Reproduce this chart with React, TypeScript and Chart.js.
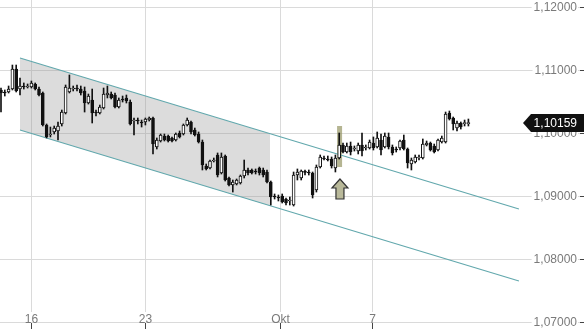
import { useEffect, useRef } from 'react';
import { Chart, registerables } from 'chart.js';

Chart.register(...registerables);

// 4-hour candles, one index per candle (trading time only)
const OPEN = [
  1.10683, 1.10651, 1.10651, 1.10698, 1.11016, 1.10698, 1.10746, 1.1073, 1.1073, 1.10778,
  1.10698, 1.10635, 1.10127, 1.09968, 1.10016, 1.10032, 1.10143, 1.10317, 1.10651, 1.10698,
  1.10714, 1.10698, 1.10667, 1.10476, 1.10524, 1.10333, 1.10317, 1.10397, 1.10603, 1.10619,
  1.10603, 1.10413, 1.1054, 1.10556, 1.10492, 1.1019, 1.10206, 1.10175, 1.10175, 1.10206,
  1.10238, 1.09778, 1.09873, 1.09952, 1.09952, 1.09921, 1.09889, 1.1, 1.09984, 1.10127,
  1.10175, 1.10048, 1.09984, 1.09857, 1.09476, 1.09444, 1.09556, 1.09651, 1.09365, 1.09635,
  1.09286, 1.09175, 1.0919, 1.09206, 1.09317, 1.09413, 1.09413, 1.09397, 1.09444, 1.09413,
  1.09381, 1.09222, 1.09, 1.08984, 1.09, 1.08952, 1.08921, 1.08857, 1.09333, 1.09286,
  1.09381, 1.09381, 1.09365, 1.09095, 1.0946, 1.09603, 1.09587, 1.09587, 1.09444, 1.09603,
  1.0981, 1.09698, 1.09794, 1.09746, 1.09714, 1.0981, 1.09762, 1.09762, 1.09841, 1.09778,
  1.09889, 1.09778, 1.09937, 1.09778, 1.09746, 1.09762, 1.09889, 1.09746, 1.09508, 1.0954,
  1.09603, 1.09603, 1.0981, 1.09841, 1.09794, 1.0973, 1.09857, 1.09857, 1.10317, 1.10238,
  1.10079, 1.10159, 1.1015, 1.1015,
];
const HIGH = [
  1.10714, 1.10683, 1.10746, 1.11079, 1.11079, 1.10873, 1.10794, 1.10778, 1.10825, 1.10794,
  1.1073, 1.10651, 1.10143, 1.10095, 1.10111, 1.10175, 1.10365, 1.10762, 1.10921, 1.10746,
  1.10762, 1.10746, 1.1073, 1.10619, 1.10698, 1.10365, 1.10444, 1.10714, 1.10746, 1.10651,
  1.10635, 1.10556, 1.10587, 1.10603, 1.10524, 1.10238, 1.10238, 1.10206, 1.10238, 1.10254,
  1.10254, 1.09921, 1.09984, 1.09984, 1.09968, 1.09937, 1.1, 1.10032, 1.10143, 1.10238,
  1.1019, 1.10079, 1.10016, 1.09889, 1.09508, 1.09571, 1.09603, 1.09683, 1.09683, 1.09651,
  1.09302, 1.09254, 1.0927, 1.09333, 1.09571, 1.09444, 1.09429, 1.09429, 1.0946, 1.09444,
  1.09413, 1.09238, 1.09032, 1.09016, 1.09032, 1.08968, 1.08984, 1.09381, 1.09429, 1.09413,
  1.09413, 1.09413, 1.09381, 1.09492, 1.09651, 1.09635, 1.09635, 1.09619, 1.09651, 1.1,
  1.09841, 1.09841, 1.09857, 1.09794, 1.09841, 1.1, 1.0981, 1.09889, 1.09937, 1.10016,
  1.09984, 1.1, 1.1, 1.0981, 1.09778, 1.09889, 1.09968, 1.09762, 1.09603, 1.09651,
  1.09651, 1.09905, 1.09873, 1.09857, 1.09825, 1.09905, 1.09952, 1.10333, 1.10349, 1.10254,
  1.1019, 1.10175, 1.10206, 1.10222,
];
const LOW = [
  1.10333, 1.10587, 1.10635, 1.10683, 1.10651, 1.10603, 1.10698, 1.10714, 1.10714, 1.10683,
  1.10587, 1.10111, 1.09921, 1.09937, 1.09984, 1.09889, 1.10111, 1.10302, 1.10635, 1.10667,
  1.10667, 1.10603, 1.10333, 1.1046, 1.10159, 1.1027, 1.10302, 1.10381, 1.10556, 1.1054,
  1.10397, 1.10397, 1.10492, 1.10476, 1.10127, 1.09968, 1.10143, 1.10095, 1.10127, 1.1019,
  1.09667, 1.09746, 1.09857, 1.09873, 1.09857, 1.09857, 1.09873, 1.09921, 1.09968, 1.10111,
  1.09984, 1.09952, 1.09841, 1.09413, 1.09413, 1.09429, 1.0954, 1.09302, 1.09349, 1.09238,
  1.09159, 1.09063, 1.09175, 1.0919, 1.09286, 1.09333, 1.09349, 1.09349, 1.09333, 1.09302,
  1.09206, 1.08857, 1.08952, 1.08921, 1.08889, 1.08857, 1.08857, 1.08841, 1.09254, 1.09254,
  1.09333, 1.09333, 1.08968, 1.09063, 1.09444, 1.09571, 1.09556, 1.09444, 1.09381, 1.09587,
  1.09683, 1.09683, 1.09651, 1.09714, 1.09667, 1.09635, 1.0973, 1.09746, 1.0973, 1.09762,
  1.09651, 1.09762, 1.09746, 1.09651, 1.09698, 1.0973, 1.0973, 1.09444, 1.09413, 1.09524,
  1.09571, 1.09587, 1.09794, 1.09714, 1.09683, 1.09714, 1.09841, 1.09841, 1.10206, 1.10048,
  1.10032, 1.10063, 1.10111, 1.10111,
];
const CLOSE = [
  1.10635, 1.10635, 1.10698, 1.11016, 1.10667, 1.10746, 1.1073, 1.10746, 1.10794, 1.10698,
  1.10603, 1.10127, 1.09937, 1.09984, 1.10079, 1.10111, 1.10333, 1.1073, 1.10714, 1.10714,
  1.10698, 1.10635, 1.10476, 1.10587, 1.10317, 1.10317, 1.10413, 1.10619, 1.10635, 1.10556,
  1.10413, 1.10524, 1.10524, 1.10508, 1.10143, 1.10206, 1.1019, 1.10159, 1.10222, 1.10238,
  1.09825, 1.09889, 1.09968, 1.09889, 1.09873, 1.09873, 1.09984, 1.09937, 1.10127, 1.10206,
  1.10016, 1.09968, 1.09857, 1.09492, 1.09429, 1.09556, 1.09571, 1.09333, 1.09619, 1.09254,
  1.09175, 1.09222, 1.09254, 1.09317, 1.09413, 1.09365, 1.09365, 1.09381, 1.09365, 1.09333,
  1.09222, 1.08984, 1.08984, 1.08968, 1.08905, 1.08889, 1.08937, 1.09333, 1.09381, 1.09397,
  1.09375, 1.09365, 1.09016, 1.0946, 1.09619, 1.09587, 1.09571, 1.09476, 1.09603, 1.0981,
  1.09698, 1.09794, 1.09698, 1.09762, 1.0981, 1.09714, 1.09778, 1.09857, 1.09762, 1.09921,
  1.0973, 1.09952, 1.09778, 1.09683, 1.0973, 1.09873, 1.09746, 1.09524, 1.09571, 1.09619,
  1.09619, 1.09825, 1.09841, 1.0973, 1.09698, 1.09889, 1.09921, 1.10302, 1.10222, 1.10143,
  1.10159, 1.10095, 1.10159, 1.10159,
];

const Y_TICKS = [1.07, 1.08, 1.09, 1.1, 1.11, 1.12];
const X_TICK_POS = [7.9, 37.9, 73.5, 97.6];
const X_TICK_LABELS = ['16', '23', 'Okt', '7'];

const CHANNEL_X = [5.0, 136.3];
const UPPER_CHANNEL = [1.1119, 1.08794];
const LOWER_CHANNEL = [1.10048, 1.07651];
const SHADE_X = [5.0, 70.8];
const SHADE_UPPER = [1.1119, 1.09989];
const SHADE_LOWER = [1.10048, 1.08847];

const LAST_PRICE = 1.10159;
const HIGHLIGHT_INDEX = 89.1;
const HIGHLIGHT_TOP = 1.10111;
const HIGHLIGHT_BOTTOM = 1.0946;
const ARROW_INDEX = 89.2;
const ARROW_TIP = 1.0927;
const ARROW_BASE = 1.08952;

const X_MIN = -0.263;
const X_MAX = 153.42;
const Y_MIN = 1.068889;
const Y_MAX = 1.121111;

const FONT = '12px "Liberation Sans", Arial, sans-serif';
const fmt = (v: number) => v.toFixed(5).replace('.', ',');

const overlay = {
  id: 'overlay',
  beforeDatasetsDraw(chart: any) {
    const { ctx } = chart;
    const xs = chart.scales.x;
    const ys = chart.scales.y;
    const axisY = Math.round(ys.getPixelForValue(Y_TICKS[0]));
    ctx.save();
    ctx.lineWidth = 1;
    ctx.strokeStyle = '#dadada';
    ctx.beginPath();
    for (const v of Y_TICKS) {
      const py = Math.round(ys.getPixelForValue(v)) + 0.5;
      ctx.moveTo(0, py);
      ctx.lineTo(580, py);
    }
    for (const v of X_TICK_POS) {
      const px = Math.round(xs.getPixelForValue(v)) + 0.5;
      ctx.moveTo(px, 0);
      ctx.lineTo(px, axisY + 0.5);
    }
    ctx.stroke();
    const hx = xs.getPixelForValue(HIGHLIGHT_INDEX);
    const ht = ys.getPixelForValue(HIGHLIGHT_TOP);
    const hb = ys.getPixelForValue(HIGHLIGHT_BOTTOM);
    ctx.fillStyle = 'rgba(150,150,100,0.7)';
    ctx.fillRect(hx - 2.5, ht, 5, hb - ht);
    ctx.restore();
  },
  afterDatasetsDraw(chart: any) {
    const { ctx } = chart;
    const xs = chart.scales.x;
    const ys = chart.scales.y;
    const axisY = Math.round(ys.getPixelForValue(Y_TICKS[0]));
    ctx.save();

    // arrow
    const ax = xs.getPixelForValue(ARROW_INDEX);
    const tip = ys.getPixelForValue(ARROW_TIP);
    const base = ys.getPixelForValue(ARROW_BASE);
    const head = tip + 9;
    ctx.beginPath();
    ctx.moveTo(ax, tip);
    ctx.lineTo(ax + 8, head);
    ctx.lineTo(ax + 4, head);
    ctx.lineTo(ax + 4, base);
    ctx.lineTo(ax - 4, base);
    ctx.lineTo(ax - 4, head);
    ctx.lineTo(ax - 8, head);
    ctx.closePath();
    ctx.fillStyle = '#b9b99a';
    ctx.fill();
    ctx.lineWidth = 1.2;
    ctx.strokeStyle = '#333';
    ctx.stroke();

    ctx.font = FONT;
    ctx.lineWidth = 1;
    // y labels
    for (const v of Y_TICKS) {
      const py = Math.round(ys.getPixelForValue(v));
      const t = fmt(v);
      const w = ctx.measureText(t).width;
      ctx.fillStyle = '#fff';
      ctx.fillRect(577 - w - 2, py - 6, w + 3, 12);
      ctx.fillStyle = '#7a7a7a';
      ctx.textAlign = 'right';
      ctx.textBaseline = 'middle';
      ctx.fillText(t, 577, py + 0.5);
      ctx.strokeStyle = '#444';
      ctx.beginPath();
      ctx.moveTo(580, py + 0.5);
      ctx.lineTo(584, py + 0.5);
      ctx.stroke();
    }
    // x labels
    X_TICK_POS.forEach((v, i) => {
      const px = Math.round(xs.getPixelForValue(v));
      const t = X_TICK_LABELS[i];
      const w = ctx.measureText(t).width;
      ctx.fillStyle = '#fff';
      ctx.fillRect(px - w / 2 - 1, axisY - 10, w + 2, 10);
      ctx.fillStyle = '#7a7a7a';
      ctx.textAlign = 'center';
      ctx.textBaseline = 'alphabetic';
      ctx.fillText(t, px + 0.5, axisY + 1);
      ctx.strokeStyle = '#444';
      ctx.beginPath();
      ctx.moveTo(px + 0.5, axisY + 1);
      ctx.lineTo(px + 0.5, 329);
      ctx.stroke();
    });

    // last price tag
    const py = ys.getPixelForValue(LAST_PRICE);
    ctx.beginPath();
    ctx.moveTo(523, py);
    ctx.lineTo(531, py - 9);
    ctx.lineTo(584, py - 9);
    ctx.lineTo(584, py + 9);
    ctx.lineTo(531, py + 9);
    ctx.closePath();
    ctx.fillStyle = '#111';
    ctx.fill();
    ctx.fillStyle = '#fff';
    ctx.textAlign = 'right';
    ctx.textBaseline = 'middle';
    ctx.fillText(fmt(LAST_PRICE), 577, py + 0.5);
    ctx.restore();
  },
};

export default function App() {
  const ref = useRef<HTMLCanvasElement>(null);
  useEffect(() => {
    const idx = OPEN.map((_, i) => i);
    const pts = (xsArr: number[], ysArr: number[]) => xsArr.map((x, i) => ({ x, y: ysArr[i] }));
    const chart = new Chart(ref.current as HTMLCanvasElement, {
      type: 'bar',
      data: {
        datasets: [
          {
            type: 'line',
            data: pts(SHADE_X, SHADE_UPPER),
            borderWidth: 0,
            borderColor: 'rgba(0,0,0,0)',
            pointRadius: 0,
            fill: '+1',
            backgroundColor: 'rgba(150,150,150,0.33)',
            order: 10,
          },
          {
            type: 'line',
            data: pts(SHADE_X, SHADE_LOWER),
            borderWidth: 0,
            borderColor: 'rgba(0,0,0,0)',
            pointRadius: 0,
            fill: false,
            order: 10,
          },
          {
            type: 'line',
            data: pts(CHANNEL_X, UPPER_CHANNEL),
            borderWidth: 1.2,
            borderColor: '#62a8ad',
            pointRadius: 0,
            fill: false,
            order: 5,
          },
          {
            type: 'line',
            data: pts(CHANNEL_X, LOWER_CHANNEL),
            borderWidth: 1.2,
            borderColor: '#62a8ad',
            pointRadius: 0,
            fill: false,
            order: 5,
          },
          {
            type: 'bar',
            data: idx.map((i) => ({ x: i, y: [LOW[i], HIGH[i]] })),
            barThickness: 1,
            grouped: false,
            backgroundColor: '#111',
            borderWidth: 0,
            order: 2,
          },
          {
            type: 'bar',
            data: idx.map((i) => ({ x: i, y: [OPEN[i], CLOSE[i]] })),
            barThickness: 3,
            grouped: false,
            borderWidth: 1,
            borderColor: '#111',
            borderSkipped: false,
            minBarLength: 1,
            backgroundColor: (c: any) => (CLOSE[c.dataIndex] >= OPEN[c.dataIndex] ? '#fff' : '#111'),
            order: 1,
          },
        ] as any,
      },
      options: {
        responsive: false,
        animation: false,
        devicePixelRatio: 1,
        events: [],
        layout: { padding: 0 },
        plugins: { legend: { display: false }, tooltip: { enabled: false } },
        scales: {
          x: { type: 'linear', min: X_MIN, max: X_MAX, display: false, offset: false },
          y: { type: 'linear', min: Y_MIN, max: Y_MAX, display: false },
        },
      } as any,
      plugins: [overlay],
    });
    return () => chart.destroy();
  }, []);
  return (
    <div style={{ position: 'fixed', left: 0, top: 0, width: 584, height: 329, background: '#fff' }}>
      <canvas ref={ref} width={584} height={329} style={{ display: 'block' }} />
    </div>
  );
}
